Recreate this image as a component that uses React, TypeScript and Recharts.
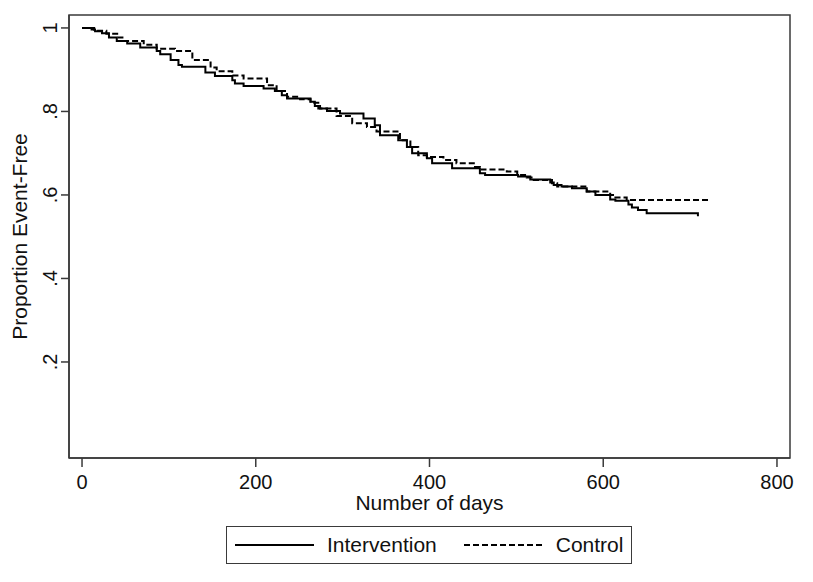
import { LineChart, Line, XAxis, YAxis, Legend, ReferenceArea } from "recharts";

// Kaplan-Meier steps (day, proportion event-free)
const interventionDays = [
  0, 11, 15, 23, 31, 40, 52, 67, 86, 90, 102, 111, 115, 142, 153, 173, 176, 186, 209, 222,
  230, 236, 263, 268, 272, 282, 297, 324, 337, 343, 364, 374, 380, 397, 403, 426, 458, 464,
  502, 516, 539, 543, 552, 564, 581, 591, 608, 614, 629, 633, 640, 650, 709,
];
const interventionSurv = [
  1, 0.996, 0.992, 0.987, 0.977, 0.969, 0.963, 0.953, 0.945, 0.937, 0.923, 0.911, 0.907, 0.893,
  0.885, 0.875, 0.867, 0.861, 0.855, 0.849, 0.839, 0.831, 0.823, 0.813, 0.807, 0.801, 0.795,
  0.783, 0.767, 0.743, 0.731, 0.715, 0.7, 0.688, 0.676, 0.664, 0.652, 0.648, 0.644, 0.637, 0.63,
  0.624, 0.62, 0.616, 0.608, 0.6, 0.589, 0.586, 0.577, 0.57, 0.564, 0.556, 0.549,
];

const controlDays = [
  0, 14, 28, 42, 48, 71, 86, 107, 127, 148, 155, 173, 186, 213, 224, 236, 251, 263, 274, 293,
  311, 328, 339, 366, 378, 387, 397, 416, 431, 451, 458, 489, 501, 512, 520, 541, 547, 581,
  608, 614, 627, 721,
];
const controlSurv = [
  1, 0.993, 0.986, 0.977, 0.969, 0.96, 0.95, 0.945, 0.923, 0.905, 0.896, 0.886, 0.879, 0.863,
  0.849, 0.835, 0.829, 0.821, 0.807, 0.789, 0.772, 0.763, 0.752, 0.731, 0.715, 0.695, 0.691,
  0.684, 0.676, 0.667, 0.661, 0.656, 0.648, 0.642, 0.636, 0.628, 0.62, 0.608, 0.6, 0.594,
  0.588, 0.583,
];

const seriesNames = ["Intervention", "Control"];
const xTicks = [0, 200, 400, 600, 800];
const yTicks = [0.2, 0.4, 0.6, 0.8, 1];
const xDomain = [-15, 815];
const yDomain = [-0.03, 1.031];

const FONT = "'Liberation Sans', Arial, sans-serif";
const AXIS = "#3a3a3a";

const interventionData = interventionDays.map((d, i) => ({ day: d, s: interventionSurv[i] }));
const controlData = controlDays.map((d, i) => ({ day: d, s: controlSurv[i] }));

function fmtY(v: number) {
  return v === 1 ? "1" : "." + Math.round(v * 10);
}

function XTick(props: any) {
  const { x, y, payload } = props;
  return (
    <text x={x} y={y + 20} textAnchor="middle" fontSize={20} fontFamily={FONT} fill="#111">
      {payload.value}
    </text>
  );
}

function YTick(props: any) {
  const { x, y, payload } = props;
  return (
    <text
      x={x - 2}
      y={y}
      textAnchor="middle"
      fontSize={20}
      fontFamily={FONT}
      fill="#111"
      transform={`rotate(-90, ${x - 2}, ${y})`}
    >
      {fmtY(payload.value)}
    </text>
  );
}

function KMLegend() {
  const dashes = [undefined, "6 3"];
  return (
    <div
      style={{
        boxSizing: "border-box",
        width: 406,
        height: 38,
        border: `1.5px solid ${AXIS}`,
        display: "flex",
        alignItems: "center",
        paddingLeft: 8,
        fontFamily: FONT,
        fontSize: 21,
        color: "#111",
        background: "#fff",
      }}
    >
      {seriesNames.map((name, i) => (
        <div key={name} style={{ display: "flex", alignItems: "center", marginRight: i === 0 ? 27 : 0 }}>
          <svg width={79} height={6} style={{ marginRight: 13 }}>
            <line x1={0} y1={3} x2={79} y2={3} stroke="#000" strokeWidth={2} strokeDasharray={dashes[i]} />
          </svg>
          <span>{name}</span>
        </div>
      ))}
    </div>
  );
}

export default function App() {
  return (
    <div style={{ position: "absolute", left: 0, top: 0, width: 813, height: 582, background: "#fff" }}>
      <LineChart width={813} height={582} margin={{ top: 15, right: 23, bottom: 0, left: 0 }}>
        <XAxis
          dataKey="day"
          type="number"
          domain={xDomain}
          ticks={xTicks}
          allowDataOverflow
          height={124}
          tickSize={9}
          tickMargin={2}
          tick={<XTick />}
          stroke={AXIS}
          strokeWidth={1.5}
          label={{
            content: (p: any) => (
              <text
                x={p.viewBox.x + p.viewBox.width / 2}
                y={p.viewBox.y + 52}
                textAnchor="middle"
                fontSize={21}
                fontFamily={FONT}
                fill="#111"
              >
                Number of days
              </text>
            ),
          }}
        />
        <YAxis
          type="number"
          domain={yDomain}
          ticks={yTicks}
          allowDataOverflow
          width={69}
          tickSize={8}
          tickMargin={2}
          tick={<YTick />}
          stroke={AXIS}
          strokeWidth={1.5}
          label={{
            content: (p: any) => {
              const cy = p.viewBox.y + p.viewBox.height / 2;
              return (
                <text
                  x={27}
                  y={cy}
                  textAnchor="middle"
                  fontSize={21}
                  fontFamily={FONT}
                  fill="#111"
                  transform={`rotate(-90, 27, ${cy})`}
                >
                  Proportion Event-Free
                </text>
              );
            },
          }}
        />
        {/* plot frame */}
        <ReferenceArea
          x1={xDomain[0]}
          x2={xDomain[1]}
          y1={yDomain[0]}
          y2={yDomain[1]}
          fill="none"
          stroke={AXIS}
          strokeWidth={1.5}
          ifOverflow="visible"
        />
        <Legend
          layout="horizontal"
          verticalAlign="middle"
          align="center"
          wrapperStyle={{ left: 226, top: 526, width: 406, height: 38 }}
          content={() => <KMLegend />}
        />
        <Line
          data={interventionData}
          dataKey="s"
          name={seriesNames[0]}
          type="stepAfter"
          stroke="#000"
          strokeWidth={2}
          dot={false}
          isAnimationActive={false}
        />
        <Line
          data={controlData}
          dataKey="s"
          name={seriesNames[1]}
          type="stepAfter"
          stroke="#000"
          strokeWidth={2}
          strokeDasharray="6 3"
          dot={false}
          isAnimationActive={false}
        />
      </LineChart>
    </div>
  );
}
